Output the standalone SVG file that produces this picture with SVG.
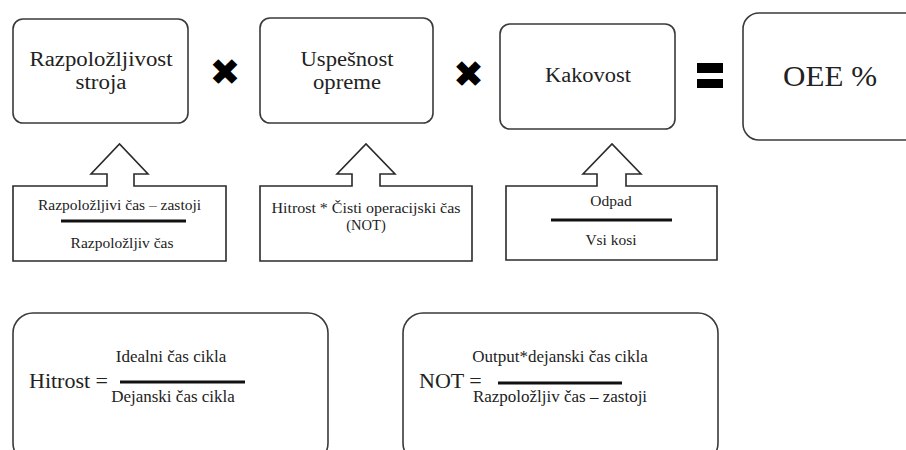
<svg xmlns="http://www.w3.org/2000/svg" width="906" height="450" viewBox="0 0 906 450">
  <style>
    .box { fill: #ffffff; stroke: #3a3a3a; stroke-width: 1.6; }
    .call { fill: #ffffff; stroke: #2a2a2a; stroke-width: 1.6; stroke-linejoin: miter; }
    .t { font-family: "Liberation Serif", "DejaVu Serif", "Noto Serif", serif; fill: #222222; text-anchor: middle; }
    .tl { font-family: "Liberation Serif", "DejaVu Serif", "Noto Serif", serif; fill: #222222; }
    .frac { stroke: #111111; stroke-width: 3; }
    .op { font-family: "DejaVu Sans", sans-serif; fill: #000000; text-anchor: middle; }
  </style>
  <rect width="906" height="450" fill="#ffffff"/>

  <g id="razpolozljivost">
    <rect class="box" x="13" y="19" width="175" height="104" rx="10"/>
    <text class="t" x="101" y="66" font-size="20" textLength="143" lengthAdjust="spacingAndGlyphs">Razpoložljivost</text>
    <text class="t" x="101" y="89" font-size="20" textLength="51" lengthAdjust="spacingAndGlyphs">stroja</text>
  </g>

  <g id="uspesnost">
    <rect class="box" x="260" y="18" width="173" height="105" rx="10"/>
    <text class="t" x="347" y="66" font-size="20" textLength="93" lengthAdjust="spacingAndGlyphs">Uspešnost</text>
    <text class="t" x="347" y="89" font-size="20" textLength="68" lengthAdjust="spacingAndGlyphs">opreme</text>
  </g>

  <g id="kakovost">
    <rect class="box" x="500" y="24" width="175" height="105" rx="10"/>
    <text class="t" x="588" y="82" font-size="20" textLength="86" lengthAdjust="spacingAndGlyphs">Kakovost</text>
  </g>

  <g id="oee">
    <rect class="box" x="743" y="13" width="180" height="127" rx="16"/>
    <text class="tl" x="783" y="86" font-size="29" textLength="94" lengthAdjust="spacingAndGlyphs">OEE %</text>
  </g>

  <g id="operators">
    <text class="op" x="225" y="85" font-size="37">✖</text>
    <text class="op" x="468.5" y="87" font-size="37">✖</text>
    <rect x="697" y="63" width="26" height="10" fill="#000000"/>
    <rect x="697" y="79" width="26" height="9" fill="#000000"/>
  </g>

  <g id="formula-razpolozljivost">
    <path class="call" d="M13,186 H107 V174 H91 L119.5,144 L148,174 H134 V186 H226 V261 H13 Z"/>
    <text class="t" x="119.5" y="210" font-size="15.5">Razpoložljivi  čas – zastoji</text>
    <line class="frac" x1="61" y1="221" x2="186" y2="221"/>
    <text class="t" x="122" y="248" font-size="15.5">Razpoložljiv  čas</text>
  </g>

  <g id="formula-uspesnost">
    <path class="call" d="M260,186 H352 V174 H337 L366,144 L395,174 H380 V186 H472 V261 H260 Z"/>
    <text class="t" x="366" y="213" font-size="14.5" textLength="189" lengthAdjust="spacingAndGlyphs">Hitrost * Čisti operacijski čas</text>
    <text class="t" x="366" y="230" font-size="14.5">(NOT)</text>
  </g>

  <g id="formula-kakovost">
    <path class="call" d="M506,186 H597 V174 H583 L612,144 L641,174 H626 V186 H717 V260 H506 Z"/>
    <text class="t" x="611" y="206" font-size="15.5">Odpad</text>
    <line class="frac" x1="551" y1="220" x2="672" y2="220"/>
    <text class="t" x="611" y="245" font-size="15.5">Vsi kosi</text>
  </g>

  <g id="hitrost">
    <rect class="box" x="13" y="313" width="315" height="150" rx="20"/>
    <text class="tl" x="29" y="388" font-size="22">Hitrost =</text>
    <text class="t" x="171" y="362" font-size="17">Idealni  čas cikla</text>
    <line class="frac" x1="120" y1="382" x2="245" y2="382"/>
    <text class="t" x="173" y="402" font-size="17">Dejanski  čas cikla</text>
  </g>

  <g id="not">
    <rect class="box" x="403" y="313" width="315" height="150" rx="20"/>
    <text class="tl" x="419" y="388" font-size="22">NOT =</text>
    <text class="t" x="560" y="362" font-size="17">Output*dejanski  čas cikla</text>
    <line class="frac" x1="498" y1="383" x2="622" y2="383"/>
    <text class="t" x="560" y="402" font-size="17">Razpoložljiv čas – zastoji</text>
  </g>

  <g id="connectors"></g>
</svg>
